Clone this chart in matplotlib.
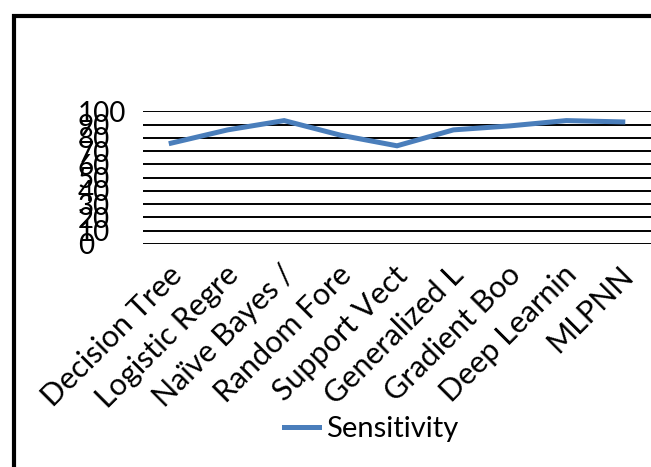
import numpy as np
import matplotlib
matplotlib.use("Agg")
import matplotlib.pyplot as plt
from matplotlib.patches import Rectangle
from matplotlib.transforms import ScaledTranslation

# data
categories = ["Decision Tree", "Logistic Regre", "Naïve Bayes /", "Random Fore",
              "Support Vect", "Generalized L", "Gradient Boo", "Deep Learnin", "MLPNN"]
sensitivity = [76, 86, 93, 82, 74, 86, 89, 93, 92]
yticks = [0, 10, 20, 30, 40, 50, 60, 70, 80, 90, 100]

plt.rcParams['font.family'] = ['Lato', 'DejaVu Sans']

W, H = 651, 467
fig = plt.figure(figsize=(W / 100, H / 100), dpi=100)

# outer frame (right and bottom edges fall outside the picture)
fig.patches.append(Rectangle((14 / W, -0.1), 1.2, 1 - 16 / H + 0.1,
                             transform=fig.transFigure, fill=False,
                             edgecolor='black', linewidth=3))

ax = fig.add_axes([143 / W, 1 - 244 / H, (W - 143) / W, (244 - 111.3) / H])
x = np.arange(len(categories))
ax.plot(x, sensitivity, color='#4a7ebb', linewidth=3.6, label='Sensitivity',
        solid_joinstyle='miter')

ax.set_xlim(-0.5, len(categories) - 0.5)
ax.set_ylim(0, 100)
ax.set_yticks(yticks)
ax.set_yticklabels([str(v) for v in yticks], fontsize=20)
ax.yaxis.grid(True, color='black', linewidth=1.4)
ax.set_axisbelow(True)
for s in ax.spines.values():
    s.set_visible(False)
ax.tick_params(axis='y', length=0, pad=47)
for lab in ax.get_yticklabels():
    lab.set_horizontalalignment('left')

ax.set_xticks(x)
ax.set_xticklabels(categories, fontsize=22, rotation=45, ha='right', va='top',
                   rotation_mode='anchor')
ax.tick_params(axis='x', length=0, pad=12)
off = ScaledTranslation(-4 / 100, 0, fig.dpi_scale_trans)
for lab in ax.get_xticklabels():
    lab.set_transform(lab.get_transform() + off)

fig.legend(loc='center', bbox_to_anchor=(371 / W, 1 - 429 / H), frameon=False,
           fontsize=21, handlelength=1.2, handletextpad=0.25)

fig.savefig('out.png', dpi=100)
